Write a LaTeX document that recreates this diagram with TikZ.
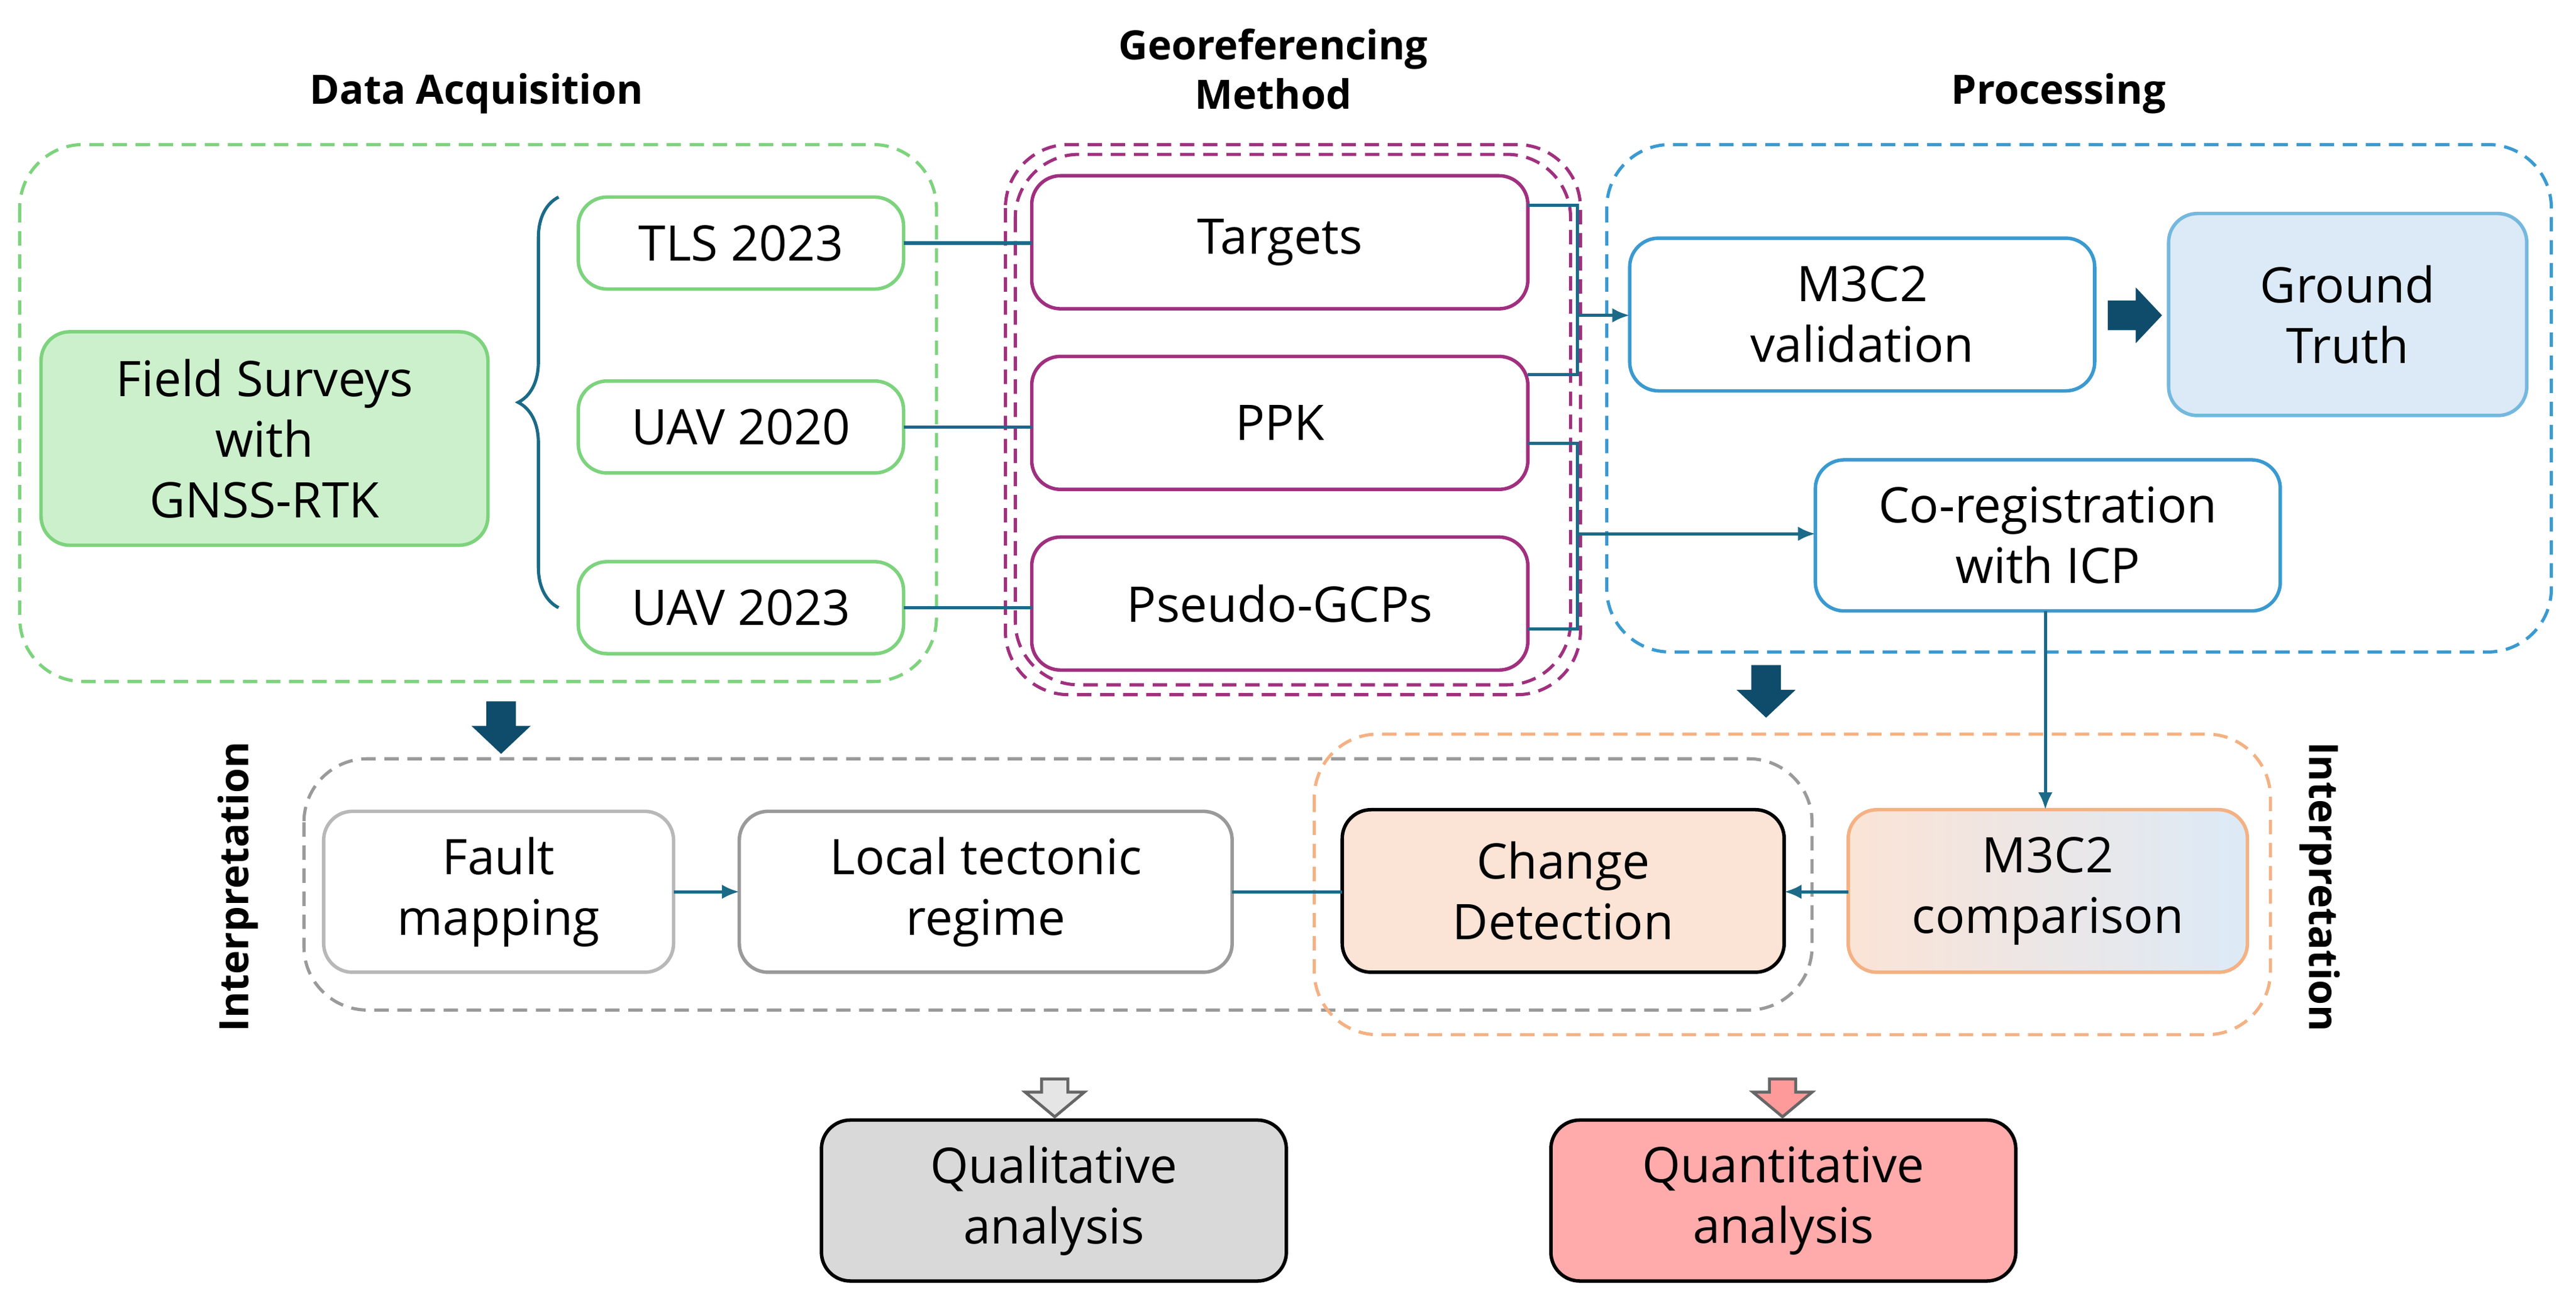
\documentclass[tikz,border=0pt]{standalone}
\usepackage{fontspec}
\setmainfont{Open Sans}
\usetikzlibrary{arrows.meta,decorations.pathreplacing,calc}
\definecolor{teal1}{HTML}{1B6A88}
\definecolor{dteal}{HTML}{0F4C6B}
\definecolor{grn}{HTML}{7DD37D}
\definecolor{grnf}{HTML}{CCF0CC}
\definecolor{pur}{HTML}{A0307F}
\definecolor{blu}{HTML}{3A9AD0}
\definecolor{bluf}{HTML}{DCEAF7}
\definecolor{gry}{HTML}{9A9A9A}
\definecolor{org}{HTML}{F4B183}
\definecolor{orgf}{HTML}{FBE3D6}
\definecolor{pnk}{HTML}{FFABAB}
\begin{document}
\begin{tikzpicture}[x=0.02cm,y=-0.02cm,
  every node/.style={font=\fontsize{17}{21}\selectfont,align=center},
  bx/.style={draw,line width=1.2pt,rounded corners=10pt,inner sep=0pt},
  grp/.style={dashed,line width=1.1pt,rounded corners=22pt,dash pattern=on 5pt off 3pt},
  ttl/.style={font=\fontsize{14}{17}\selectfont\bfseries},
  con/.style={teal1,line width=1.1pt},
  arr/.style={con,-{Latex[length=6pt,width=5pt]}}]
\useasboundingbox (0,0) rectangle (1568,795);
% groups
\draw[grp,grn] (12,88) rectangle (570,415);
\draw[grp,pur] (612,88) rectangle (962,423);
\draw[grp,pur] (618,94) rectangle (956,417);
\draw[grp,blu] (978,88) rectangle (1553,397);
\draw[grp,gry] (185,462) rectangle (1103,615);
\draw[grp,org] (800,447) rectangle (1382,630);
% titles
\node[ttl] (t1) at (290,57) {Data Acquisition};
\node[ttl] (t2) at (775,42) {Georeferencing\\Method};
\node[ttl] (t3) at (1253,57) {Processing};
\node[ttl,rotate=90] (t4) at (145,540) {Interpretation};
\node[ttl,rotate=-90] (t5) at (1412,540) {Interpretation};
% nodes
\newcommand{\bxr}[5]{\draw[bx,#5] (#1) rectangle (#2); \node (#3) at ($(#1)!0.5!(#2)$) {#4};}
\bxr{25,202}{297,332}{fs}{Field Surveys\\with\\GNSS-RTK}{draw=grn,fill=grnf}
\bxr{352,120}{550,176}{tls}{TLS 2023}{draw=grn}
\bxr{352,232}{550,288}{u20}{UAV 2020}{draw=grn}
\bxr{352,342}{550,398}{u23}{UAV 2023}{draw=grn}
\bxr{628,107}{930,188}{tg}{Targets}{draw=pur}
\bxr{628,217}{930,298}{ppk}{PPK}{draw=pur}
\bxr{628,327}{930,408}{pg}{Pseudo-GCPs}{draw=pur}
\bxr{992,145}{1275,238}{mv}{M3C2\\validation}{draw=blu}
\bxr{1320,130}{1538,253}{gt}{Ground\\Truth}{draw=blu!70,fill=bluf}
\bxr{1105,280}{1388,372}{cr}{Co-registration\\with ICP}{draw=blu}
\bxr{197,494}{410,592}{fm}{Fault\\mapping}{draw=gry!70}
\bxr{450,494}{750,592}{lt}{Local tectonic\\regime}{draw=gry}
\bxr{817,493}{1086,592}{cd}{Change\\Detection}{draw=black,fill=orgf}
\draw[bx,draw=org,left color=orgf,right color=bluf] (1125,493) rectangle (1368,592);
\node (mc) at (1246.5,542.5) {M3C2\\comparison};
\bxr{500,682}{783,780}{qa}{Qualitative\\analysis}{draw=black,fill=gray!30}
\bxr{944,682}{1227,780}{qn}{Quantitative\\analysis}{draw=black,fill=pnk}
% brace
\draw[con,decorate,decoration={brace,amplitude=14pt}] (340,370) -- (340,120);
% connectors
\draw[con] (550,148) -- (628,148);
\draw[con] (550,260) -- (628,260);
\draw[con] (550,370) -- (628,370);
\draw[con] (930,125) -- (960,125) -- (960,228) -- (930,228);
\draw[arr] (960,192) -- (992,192);
\draw[con] (930,270) -- (960,270) -- (960,383) -- (930,383);
\draw[arr] (960,325) -- (1105,325);
\draw[arr] (1245,372) -- (1245,493);
\draw[arr] (410,543) -- (450,543);
\draw[con] (750,543) -- (817,543);
\draw[arr] (1125,543) -- (1086,543);
% block arrows
\fill[dteal] (1283,183) -- (1300,183) -- (1300,175) -- (1316,192) -- (1300,209) -- (1300,201) -- (1283,201) -- cycle;
\fill[dteal] (1066,405) -- (1084,405) -- (1084,420) -- (1093,420) -- (1075,437) -- (1057,420) -- (1066,420) -- cycle;
\fill[dteal] (296,427) -- (314,427) -- (314,442) -- (323,442) -- (305,459) -- (287,442) -- (296,442) -- cycle;
\draw[gray!80!black,fill=gray!20,line width=1pt] (634,657) -- (650,657) -- (650,665) -- (660,665) -- (642,680) -- (624,665) -- (634,665) -- cycle;
\draw[gray!80!black,fill=pnk!90!red,line width=1pt] (1077,657) -- (1093,657) -- (1093,665) -- (1103,665) -- (1085,680) -- (1067,665) -- (1077,665) -- cycle;
\end{tikzpicture}
\end{document}
